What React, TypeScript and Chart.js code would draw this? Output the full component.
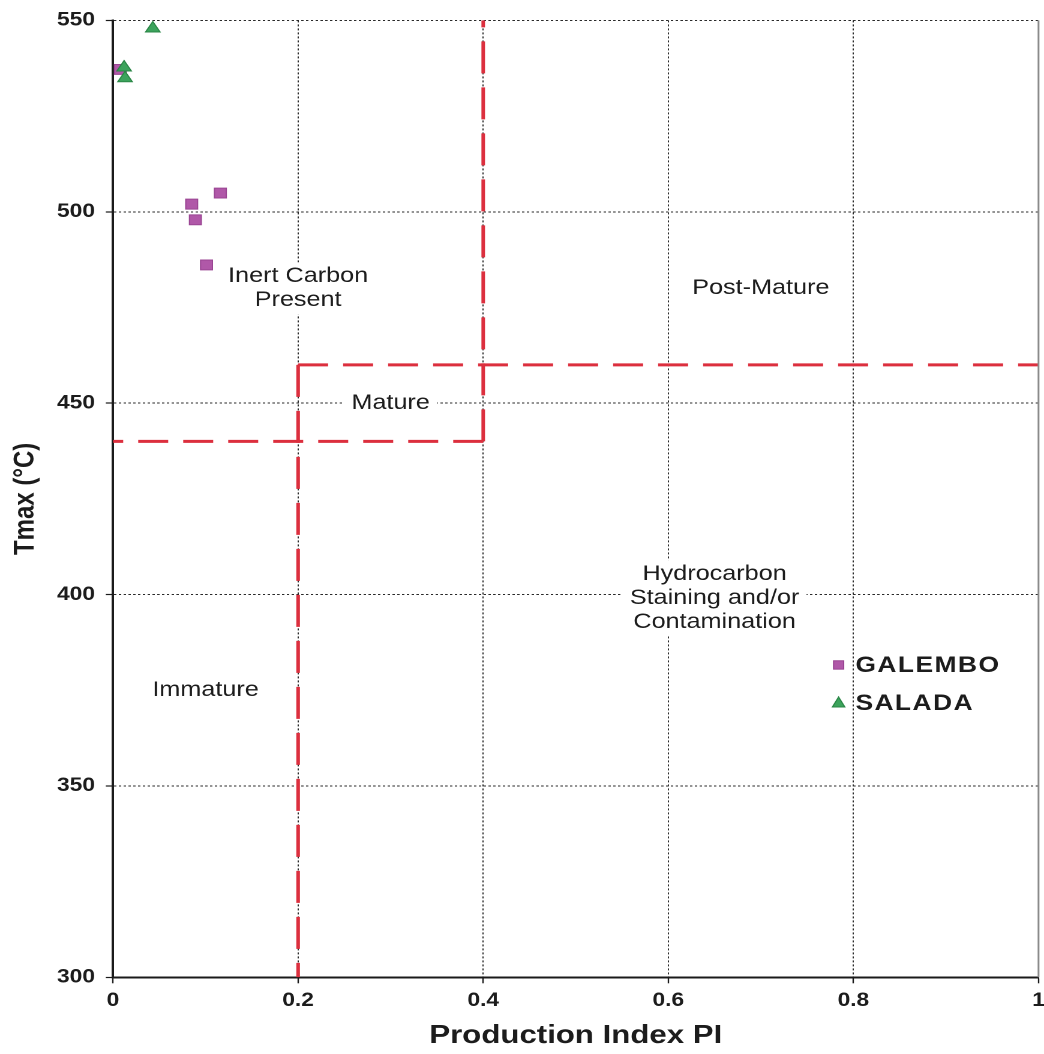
import React, { useEffect, useRef } from 'react';
import { Chart, registerables } from 'chart.js';

Chart.register(...registerables);

// ---------------- data ----------------
const galemboPI = [0.008, 0.085, 0.089, 0.116, 0.101];
const galemboTmax = [537.2, 502.0, 497.9, 504.9, 486.1];

const saladaPI = [0.012, 0.013, 0.043];
const saladaTmax = [537.7, 534.9, 547.9];

const xTickLabels = ['0', '0.2', '0.4', '0.6', '0.8', '1'];
const yTickLabels = ['300', '350', '400', '450', '500', '550'];

// zone boundaries (red dashed lines)
const immatureTopPI = [0.4, 0];
const immatureTopT = [440, 440];
const inertLeftPI = [0.4, 0.4];
const inertLeftT = [440, 550];
const matureLeftPI = [0.2, 0.2];
const matureLeftT = [460, 300];
const matureTopPI = [0.2, 1];
const matureTopT = [460, 460];

// zone labels
const zoneLabels = [
  ['Inert Carbon', 'Present'],
  ['Post-Mature'],
  ['Mature'],
  ['Hydrocarbon', 'Staining and/or', 'Contamination'],
  ['Immature'],
];
const zoneLabelPI = [0.2, 0.7, 0.3, 0.65, 0.1];
const zoneLabelT = [480, 480, 450, 399, 375];

const seriesNames = ['GALEMBO', 'SALADA'];

// ---------------- layout / style ----------------
const PAGE_W = 1044;
const PAGE_H = 1054;
const STRETCH = 1.2; // scanned figure is horizontally stretched
const W = PAGE_W / STRETCH;
const H = PAGE_H;
const FONT = '"Liberation Sans", Arial, Helvetica, sans-serif';
const RED = '#dc2f3e';
const PURPLE = '#b058a8';
const PURPLE_EDGE = '#9a4593';
const GREEN = '#3ca35c';
const GREEN_EDGE = '#2a8646';
const TEXT = '#1c1c1c';

const pts = (xs: number[], ys: number[]) => xs.map((x, i) => ({ x, y: ys[i] }));

const boundary = (xs: number[], ys: number[], dash: number[]) => ({
  type: 'scatter' as const,
  label: '',
  data: pts(xs, ys),
  showLine: true,
  pointRadius: 0,
  borderColor: RED,
  borderWidth: 3,
  borderDash: dash,
  borderCapStyle: 'butt',
  fill: false,
  order: 5,
});

const zonePlugin = {
  id: 'zoneLabels',
  beforeDatasetsDraw(chart: any) {
    const { ctx, scales } = chart;
    const xs = scales.x;
    const ys = scales.y;
    ctx.save();
    ctx.font = `21px ${FONT}`;
    ctx.textAlign = 'center';
    ctx.textBaseline = 'middle';
    const lh = 24;
    zoneLabels.forEach((lines, i) => {
      const cx = xs.getPixelForValue(zoneLabelPI[i]);
      const cy = ys.getPixelForValue(zoneLabelT[i]);
      const wMax = Math.max(...lines.map((l) => ctx.measureText(l).width));
      const bw = wMax + 12;
      const bh = lines.length * lh + 4;
      ctx.fillStyle = '#ffffff';
      ctx.fillRect(cx - bw / 2, cy - bh / 2, bw, bh);
      ctx.fillStyle = TEXT;
      lines.forEach((l, j) => {
        const y = cy + (j - (lines.length - 1) / 2) * lh;
        ctx.fillText(l, cx, y);
      });
    });
    ctx.restore();
  },
  afterDraw(chart: any) {
    const { ctx, chartArea, scales } = chart;
    ctx.save();
    // right frame
    ctx.strokeStyle = '#8a8a8a';
    ctx.lineWidth = 1.5;
    ctx.beginPath();
    ctx.moveTo(chartArea.right, chartArea.top);
    ctx.lineTo(chartArea.right, chartArea.bottom);
    ctx.stroke();

    // legend
    const lx = scales.x.getPixelForValue(0.784);
    const ly = scales.y.getPixelForValue(381.6);
    const gap = 38;
    ctx.font = `bold 22px ${FONT}`;
    ctx.textAlign = 'left';
    ctx.textBaseline = 'middle';
    (ctx as any).letterSpacing = '1.2px';
    // GALEMBO square
    ctx.fillStyle = PURPLE;
    ctx.strokeStyle = PURPLE_EDGE;
    ctx.lineWidth = 1;
    ctx.fillRect(lx - 4.2, ly - 4.2, 8.4, 8.4);
    ctx.strokeRect(lx - 4.2, ly - 4.2, 8.4, 8.4);
    ctx.fillStyle = TEXT;
    ctx.fillText(seriesNames[0], lx + 14, ly + 1);
    // SALADA triangle
    const ty = ly + gap;
    ctx.fillStyle = GREEN;
    ctx.strokeStyle = GREEN_EDGE;
    ctx.beginPath();
    ctx.moveTo(lx, ty - 6);
    ctx.lineTo(lx + 5.2, ty + 4);
    ctx.lineTo(lx - 5.2, ty + 4);
    ctx.closePath();
    ctx.fill();
    ctx.stroke();
    ctx.fillStyle = TEXT;
    ctx.fillText(seriesNames[1], lx + 14, ty + 1);
    ctx.restore();
  },
};

export default function App() {
  const ref = useRef<HTMLCanvasElement>(null);

  useEffect(() => {
    const canvas = ref.current;
    if (!canvas) return;
    Chart.defaults.font.family = FONT;
    Chart.defaults.color = TEXT;

    const chart = new Chart(canvas, {
      type: 'scatter',
      data: {
        datasets: [
          {
            label: seriesNames[1],
            data: pts(saladaPI, saladaTmax),
            pointStyle: 'triangle',
            pointRadius: 7,
            backgroundColor: GREEN,
            borderColor: GREEN_EDGE,
            borderWidth: 1,
            order: 0,
          },
          {
            label: seriesNames[0],
            data: pts(galemboPI, galemboTmax),
            pointStyle: 'rect',
            pointRadius: 7,
            backgroundColor: PURPLE,
            borderColor: PURPLE_EDGE,
            borderWidth: 1,
            order: 1,
          },
          boundary(immatureTopPI, immatureTopT, [25, 12.5]),
          boundary(inertLeftPI, inertLeftT, [32, 14]),
          boundary(matureLeftPI, matureLeftT, [32, 14]),
          boundary(matureTopPI, matureTopT, [25, 12.5]),
        ] as any,
      },
      options: {
        animation: false,
        responsive: false,
        devicePixelRatio: 2,
        events: [],
        layout: {
          autoPadding: false,
          padding: { top: 17.5, right: W - 1038.5 / STRETCH, left: 0, bottom: 0 },
        },
        plugins: {
          legend: { display: false },
          tooltip: { enabled: false },
        },
        scales: {
          x: {
            type: 'linear',
            position: 'bottom',
            min: 0,
            max: 1,
            afterFit: (s: any) => {
              s.height = 1054 - 977.3;
              s.paddingLeft = 0;
              s.paddingRight = 0;
            },
            ticks: {
              stepSize: 0.2,
              autoSkip: false,
              maxRotation: 0,
              padding: 6,
              color: TEXT,
              font: { size: 19, weight: 'bold' },
              callback: (_v: any, i: number) => xTickLabels[i],
            },
            grid: {
              color: '#2a2a2a',
              lineWidth: 1,
              tickLength: 6,
              tickColor: '#1a1a1a',
              tickWidth: 1.2,
            },
            border: { display: true, color: '#1a1a1a', width: 2, dash: [2, 2] },
            title: {
              display: true,
              text: 'Production Index PI',
              color: TEXT,
              font: { size: 26, weight: 'bold' },
              padding: { top: 0, bottom: 2.5 },
            },
          },
          y: {
            type: 'linear',
            min: 300,
            max: 550,
            afterFit: (s: any) => {
              s.width = 113 / STRETCH;
            },
            ticks: {
              stepSize: 50,
              padding: 9,
              color: TEXT,
              font: { size: 19, weight: 'bold' },
              callback: (_v: any, i: number) => yTickLabels[i],
            },
            grid: {
              color: '#2a2a2a',
              lineWidth: 1,
              tickLength: 6,
              tickColor: '#1a1a1a',
              tickWidth: 1.2,
            },
            border: { display: true, color: '#1a1a1a', width: 2, dash: [2, 2] },
            title: {
              display: true,
              text: 'Tmax (°C)',
              color: TEXT,
              font: { size: 24, weight: 'bold' },
              padding: { top: 7, bottom: 0 },
            },
          },
        },
      } as any,
      plugins: [zonePlugin],
    });

    return () => chart.destroy();
  }, []);

  return (
    <div
      style={{
        position: 'fixed',
        left: 0,
        top: 0,
        width: PAGE_W,
        height: PAGE_H,
        background: '#ffffff',
        overflow: 'hidden',
      }}
    >
      <canvas
        ref={ref}
        width={W}
        height={H}
        style={{ width: `${PAGE_W}px`, height: `${PAGE_H}px`, display: 'block' }}
      />
    </div>
  );
}
